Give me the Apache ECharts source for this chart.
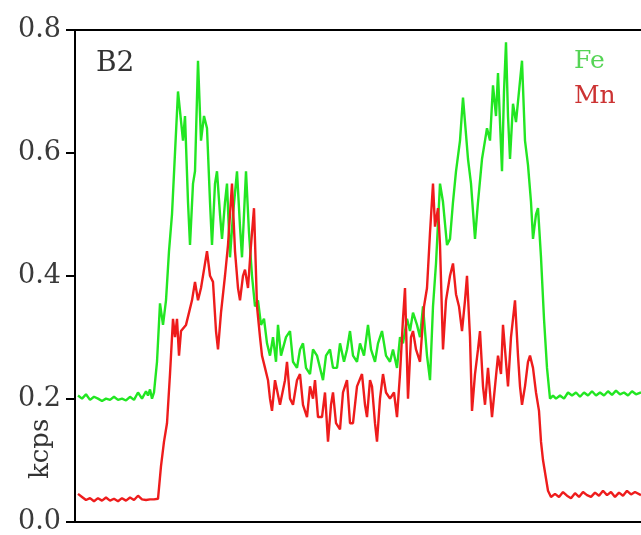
<!DOCTYPE html>
<html>
<head>
<meta charset="utf-8">
<script src="https://cdn.jsdelivr.net/npm/echarts@6/dist/echarts.min.js"></script>
<style>
html,body{margin:0;padding:0;background:#fff;}
#main{width:641px;height:535px;}
</style>
</head>
<body>
<div id="main"></div>
<script>
var yTicks = [0, 0.2, 0.4, 0.6, 0.8];

// Fe line scan (distance, kcps)
var feDist = [78,82,86,90,94,98,102,106,110,114,118,122,126,130,134,138,142,146,148,150,152,154,
	157,160,163,166,169,172,175,178,180,183,185,188,190,193,195,198,201,204,207,210,212,215,217,220,222,225,227,230,233,237,240,242,246,249,252,255,258,261,264,267,270,273,276,278,281,283,286,290,293,297,300,303,306,310,313,317,320,323,326,330,333,337,340,344,347,350,353,357,360,364,368,371,375,378,382,386,390,393,397,400,403,407,410,413,417,420,423,427,430,433,436,440,443,447,450,453,456,460,463,466,468,471,475,478,482,485,487,490,493,496,498,500,502,504,506,508,510,513,516,519,522,525,528,531,533,536,538,541,544,547,550,
	553,556,560,564,568,572,576,580,584,588,592,596,600,604,608,612,616,620,624,628,632,636,641];
var feKcps = [0.205,0.200,0.207,0.198,0.203,0.200,0.196,0.200,0.198,0.203,0.198,0.200,0.197,0.203,0.198,0.210,0.200,0.212,0.205,0.215,0.200,0.210,
	0.26,0.355,0.32,0.36,0.44,0.50,0.60,0.70,0.70,0.62,0.66,0.52,0.45,0.55,0.57,0.75,0.62,0.66,0.64,0.52,0.45,0.55,0.57,0.50,0.46,0.52,0.55,0.43,0.50,0.57,0.48,0.43,0.57,0.47,0.40,0.35,0.36,0.32,0.33,0.29,0.27,0.30,0.26,0.32,0.27,0.27,0.30,0.31,0.26,0.25,0.28,0.29,0.25,0.24,0.28,0.27,0.25,0.23,0.27,0.28,0.25,0.25,0.29,0.26,0.28,0.31,0.27,0.26,0.29,0.27,0.32,0.28,0.26,0.29,0.31,0.27,0.26,0.28,0.25,0.30,0.29,0.33,0.31,0.34,0.32,0.30,0.35,0.27,0.23,0.35,0.42,0.55,0.52,0.45,0.46,0.52,0.57,0.62,0.69,0.63,0.59,0.55,0.46,0.52,0.59,0.62,0.64,0.62,0.71,0.66,0.73,0.65,0.57,0.70,0.78,0.66,0.59,0.68,0.65,0.70,0.75,0.62,0.58,0.52,0.46,0.50,0.51,0.43,0.33,0.25,0.20,
	0.205,0.200,0.205,0.200,0.210,0.205,0.210,0.203,0.210,0.205,0.212,0.205,0.210,0.205,0.212,0.206,0.213,0.207,0.210,0.205,0.212,0.207,0.210];

// Mn line scan (distance, kcps)
var mnDist = [78,82,86,90,94,98,102,106,110,114,118,122,126,130,134,138,142,146,150,154,158,
	161,164,167,170,173,175,177,179,181,183,186,189,192,195,198,201,204,207,210,213,216,218,221,225,228,232,235,238,240,243,245,248,251,254,257,260,262,265,268,270,272,275,277,280,282,285,287,290,293,297,300,303,307,310,313,315,318,322,325,328,331,333,336,340,343,347,350,353,357,362,365,367,370,372,375,377,380,383,386,390,394,397,400,403,405,408,411,413,416,420,424,427,430,433,435,438,440,443,446,450,453,456,459,462,465,467,470,472,475,478,480,483,485,488,490,492,495,498,501,503,506,508,511,513,515,518,520,522,525,528,530,533,536,539,541,543,546,548,551,
	555,559,563,567,571,575,579,583,587,591,595,599,603,607,611,615,619,623,627,631,635,641];
var mnKcps = [0.045,0.040,0.035,0.038,0.033,0.038,0.034,0.039,0.034,0.037,0.033,0.038,0.034,0.039,0.035,0.042,0.036,0.035,0.036,0.036,0.037,
	0.09,0.13,0.16,0.24,0.33,0.30,0.33,0.27,0.31,0.31,0.32,0.34,0.36,0.39,0.36,0.38,0.41,0.44,0.40,0.39,0.31,0.28,0.34,0.40,0.45,0.55,0.44,0.38,0.36,0.40,0.41,0.38,0.45,0.51,0.35,0.30,0.27,0.25,0.23,0.20,0.18,0.23,0.23,0.19,0.19,0.23,0.26,0.20,0.19,0.23,0.24,0.19,0.17,0.22,0.20,0.23,0.17,0.17,0.21,0.13,0.19,0.21,0.16,0.15,0.21,0.23,0.16,0.16,0.22,0.24,0.19,0.17,0.23,0.22,0.16,0.13,0.20,0.24,0.21,0.20,0.21,0.17,0.24,0.33,0.38,0.20,0.30,0.31,0.28,0.26,0.35,0.38,0.47,0.55,0.48,0.51,0.45,0.28,0.36,0.40,0.42,0.37,0.35,0.31,0.36,0.40,0.30,0.18,0.24,0.28,0.31,0.22,0.19,0.25,0.21,0.17,0.22,0.27,0.24,0.32,0.26,0.22,0.30,0.33,0.36,0.27,0.22,0.19,0.22,0.26,0.27,0.25,0.21,0.18,0.13,0.10,0.07,0.05,0.04,
	0.045,0.040,0.048,0.042,0.038,0.046,0.040,0.048,0.043,0.040,0.047,0.042,0.050,0.043,0.048,0.040,0.047,0.042,0.050,0.044,0.048,0.043];

function zipData(xs, ys) {
	var out = [];
	for (var i = 0; i < xs.length; i++) {
		out.push([xs[i], ys[i]]);
	}
	return out;
}

var serifFont = '"DejaVu Serif", "Liberation Serif", serif';
var myChart = echarts.init(document.getElementById('main'));
var option = {
	animation: false,
	backgroundColor: '#fff',
	grid: {left: 75, right: 0, top: 30, bottom: 13},
	legend: {
		orient: 'vertical',
		left: 564,
		top: 44,
		itemWidth: 0,
		itemGap: 10,
		icon: 'none',
		textStyle: {fontFamily: serifFont, fontSize: 25},
		data: [
			{name: 'Fe', textStyle: {color: '#55d455'}},
			{name: 'Mn', textStyle: {color: '#cc3333'}}
		]
	},
	xAxis: [
		{
			type: 'value', min: 75, max: 641, position: 'bottom',
			axisLine: {show: true, lineStyle: {color: '#000', width: 2}},
			axisTick: {show: false}, axisLabel: {show: false}, splitLine: {show: false}
		},
		{
			type: 'value', min: 75, max: 641, position: 'top',
			axisLine: {show: true, onZero: false, lineStyle: {color: '#000', width: 2}},
			axisTick: {show: false}, axisLabel: {show: false}, splitLine: {show: false}
		}
	],
	yAxis: {
		type: 'value',
		min: yTicks[0],
		max: yTicks[yTicks.length - 1],
		interval: 0.2,
		axisLine: {show: true, lineStyle: {color: '#000', width: 2}},
		axisTick: {show: true, length: 9, lineStyle: {color: '#000', width: 2}},
		axisLabel: {
			margin: 14,
			fontFamily: serifFont,
			fontSize: 27,
			color: '#3a3a3a',
			formatter: function(v) { return v.toFixed(1); }
		},
		splitLine: {show: false}
	},
	graphic: [
		{
			type: 'text', left: 96, top: 50,
			style: {text: 'B2', font: '28px ' + serifFont, fill: '#333'}
		},
		{
			type: 'text', x: 28, y: 479, rotation: Math.PI / 2,
			style: {text: 'kcps', font: '26px ' + serifFont, fill: '#333'}
		}
	],
	series: [
		{
			name: 'Fe', type: 'line', xAxisIndex: 0, showSymbol: false,
			lineStyle: {color: '#22e622', width: 2.4},
			itemStyle: {color: '#22e622'},
			data: zipData(feDist, feKcps)
		},
		{
			name: 'Mn', type: 'line', xAxisIndex: 0, showSymbol: false,
			lineStyle: {color: '#ee1c1c', width: 2.4},
			itemStyle: {color: '#ee1c1c'},
			data: zipData(mnDist, mnKcps)
		}
	]
};
myChart.setOption(option);
</script>
</body>
</html>
